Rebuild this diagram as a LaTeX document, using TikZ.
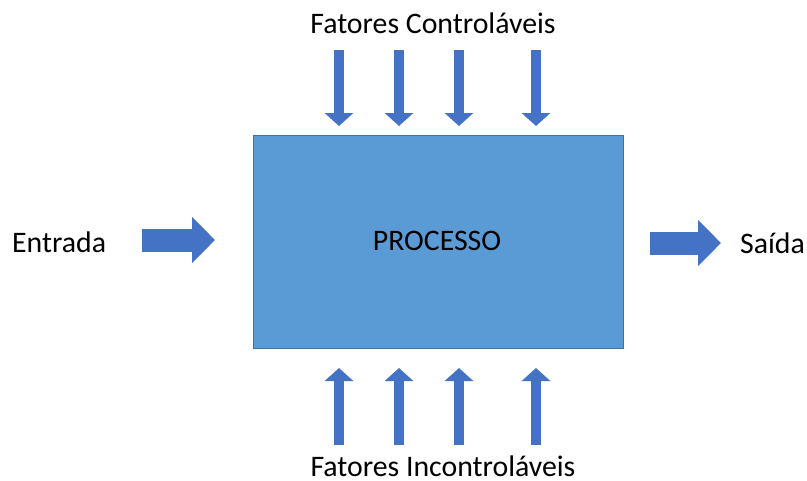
\documentclass[tikz,border=0pt]{standalone}
\usepackage{fontspec}
\setmainfont{Carlito}
\usetikzlibrary{arrows.meta}
\definecolor{boxblue}{HTML}{5B9BD5}
\definecolor{boxedge}{HTML}{41719C}
\definecolor{arrowblue}{HTML}{4472C4}
\begin{document}
\begin{tikzpicture}[x=1pt, y=-1pt, font=\fontsize{29.8}{34}\selectfont,
	processbox/.style={draw=boxedge, line width=1pt, fill=boxblue, minimum width=370pt, minimum height=213pt, inner sep=0pt},
	label text/.style={inner sep=0pt},
	thinarrow/.style={draw=arrowblue, line width=10pt, -{Triangle[width=28pt, length=13pt]}},
	fatarrow/.style={draw=arrowblue, line width=23pt, -{Triangle[width=45pt, length=23pt]}}]
			\useasboundingbox (0,0) rectangle (807,480);
			
			\node[processbox] (proc) at (438,241.5) {};
			\node[label text, anchor=base] (proclabel) at (437,250) {PROCESSO};
			\node[label text, anchor=base west] (entrada) at (12,252) {Entrada};
			\node[label text, anchor=base west] (saida) at (740,253) {Saída};
			\node[label text, anchor=base] (ctrl) at (433,33) {Fatores Controláveis};
			\node[label text, anchor=base] (inctrl) at (443,476.5) {Fatores Incontroláveis};
			
			\path
			(142,240) coordinate (E1)
			(215,240) coordinate (E2)
			(650,243) coordinate (S1)
			(721,243) coordinate (S2);
			
			\draw[fatarrow] (E1) -- (E2);
			\draw[fatarrow] (S1) -- (S2);
			
			\foreach \i/\x in {1/339, 2/399, 3/459, 4/536}
			{
				\coordinate (C\i) at (\x,50);
				\coordinate (U\i) at (\x,445);
				\draw[thinarrow] (C\i) -- (\x,126);
				\draw[thinarrow] (U\i) -- (\x,368);
			}
		\end{tikzpicture}
\end{document}
